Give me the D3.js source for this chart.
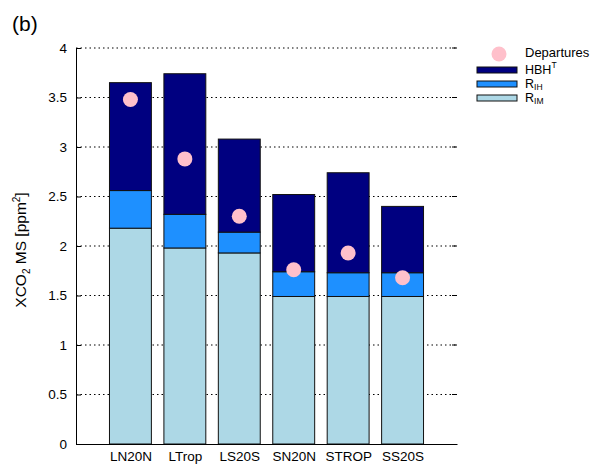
<!DOCTYPE html>
<html>
<head>
<meta charset="utf-8">
<script src="https://cdn.jsdelivr.net/npm/d3@7"></script>
<style>
  body { margin: 0; background: #fff; }
  svg { font-family: "Liberation Sans", Arial, sans-serif; }
</style>
</head>
<body>
<svg id="chart" width="594" height="466"></svg>
<script>
// data
let regions = ["LN20N", "LTrop", "LS20S", "SN20N", "STROP", "SS20S"];
let rIM = [2.18, 1.98, 1.93, 1.49, 1.49, 1.49];
let rIH = [0.38, 0.34, 0.21, 0.25, 0.24, 0.24];
let hbh = [1.09, 1.42, 0.94, 0.78, 1.01, 0.67];
let departures = [3.48, 2.88, 2.30, 1.76, 1.93, 1.68];
let yTicks = [0, 0.5, 1, 1.5, 2, 2.5, 3, 3.5, 4];

let svg = d3.select("#chart");
let plotL = 76, plotR = 457, plotT = 48, plotB = 444;

let x = d3.scaleLinear().domain([0, regions.length + 1]).range([plotL, plotR]);
let y = d3.scaleLinear().domain([0, 4]).range([plotB, plotT]);
let barW = (x(1) - x(0)) * 0.77;

// gridlines
svg.append("g").selectAll("line")
    .data(yTicks.filter(d => d > 0))
    .enter().append("line")
    .attr("x1", plotL).attr("x2", plotR)
    .attr("y1", d => y(d)).attr("y2", d => y(d))
    .attr("stroke", "#000")
    .attr("stroke-width", 1.1)
    .attr("stroke-dasharray", "1.5,3");

// right side mirror ticks
svg.append("g").selectAll("line")
    .data(yTicks.filter(d => d > 0))
    .enter().append("line")
    .attr("x1", plotR - 5).attr("x2", plotR)
    .attr("y1", d => y(d)).attr("y2", d => y(d))
    .attr("stroke", "#000");

// stacked bars
let colors = ["#add8e6", "#1e90ff", "#000080"];
let stacked = d3.stack().keys([0, 1, 2])
    (regions.map((r, i) => [rIM[i], rIH[i], hbh[i]]));

let bars = svg.append("g");
stacked.forEach((layer, k) => {
    bars.append("g").selectAll("rect")
        .data(layer)
        .enter().append("rect")
        .attr("x", (d, i) => x(i + 1) - barW / 2)
        .attr("y", d => y(d[1]))
        .attr("width", barW)
        .attr("height", d => y(d[0]) - y(d[1]))
        .attr("fill", colors[k])
        .attr("stroke", "#111")
        .attr("stroke-width", 1);
});

// departures
svg.append("g").selectAll("circle")
    .data(departures)
    .enter().append("circle")
    .attr("cx", (d, i) => x(i + 1))
    .attr("cy", d => y(d))
    .attr("r", 7.5)
    .attr("fill", "#ffc0cb");

// y axis
let yAxis = d3.axisLeft(y).tickValues(yTicks).tickSize(-5).tickPadding(9)
    .tickFormat(d => d);
let ya = svg.append("g").attr("transform", "translate(" + plotL + ",0)").call(yAxis);
ya.select(".domain").attr("stroke", "#000");
ya.selectAll("text").attr("font-size", 13.5).attr("fill", "#000");

// x axis
let xa = svg.append("g").attr("transform", "translate(0," + plotB + ")")
    .call(d3.axisBottom(x).tickValues(d3.range(1, regions.length + 1))
        .tickSize(0).tickPadding(7).tickFormat(d => regions[d - 1]));
xa.select(".domain").attr("stroke", "#000");
xa.selectAll("text").attr("font-size", 13.5).attr("fill", "#000");

// y label
let yl = svg.append("text")
    .attr("transform", "translate(26,250) rotate(-90)")
    .attr("text-anchor", "middle")
    .attr("font-size", 15.5);
yl.append("tspan").text("XCO");
yl.append("tspan").attr("font-size", 10).attr("dy", 4).text("2");
yl.append("tspan").attr("dy", -4).text(" MS [ppm");
yl.append("tspan").attr("font-size", 10).attr("dy", -6).text("2");
yl.append("tspan").attr("dy", 6).text("]");

// panel label
svg.append("text").attr("x", 12).attr("y", 31).attr("font-size", 21).text("(b)");

// legend
let lg = svg.append("g");
lg.append("circle").attr("cx", 499).attr("cy", 54).attr("r", 7.5).attr("fill", "#ffc0cb");
lg.append("text").attr("x", 525).attr("y", 57).attr("font-size", 13).text("Departures");
let legItems = [
    {color: "#000080", y: 70, base: 74, main: "HBH", sup: "T"},
    {color: "#1e90ff", y: 84, base: 88, main: "R", sub: "IH"},
    {color: "#add8e6", y: 98, base: 102, main: "R", sub: "IM"}
];
legItems.forEach(it => {
    lg.append("rect").attr("x", 477).attr("y", it.y - 3).attr("width", 40).attr("height", 6)
        .attr("fill", it.color).attr("stroke", "#111");
    let t = lg.append("text").attr("x", 525).attr("y", it.base).attr("font-size", 12.5);
    t.append("tspan").text(it.main);
    if (it.sup) t.append("tspan").attr("font-size", 8.5).attr("dy", -6).text(it.sup);
    if (it.sub) t.append("tspan").attr("font-size", 8.5).attr("dy", 2).text(it.sub);
});
</script>
</body>
</html>
